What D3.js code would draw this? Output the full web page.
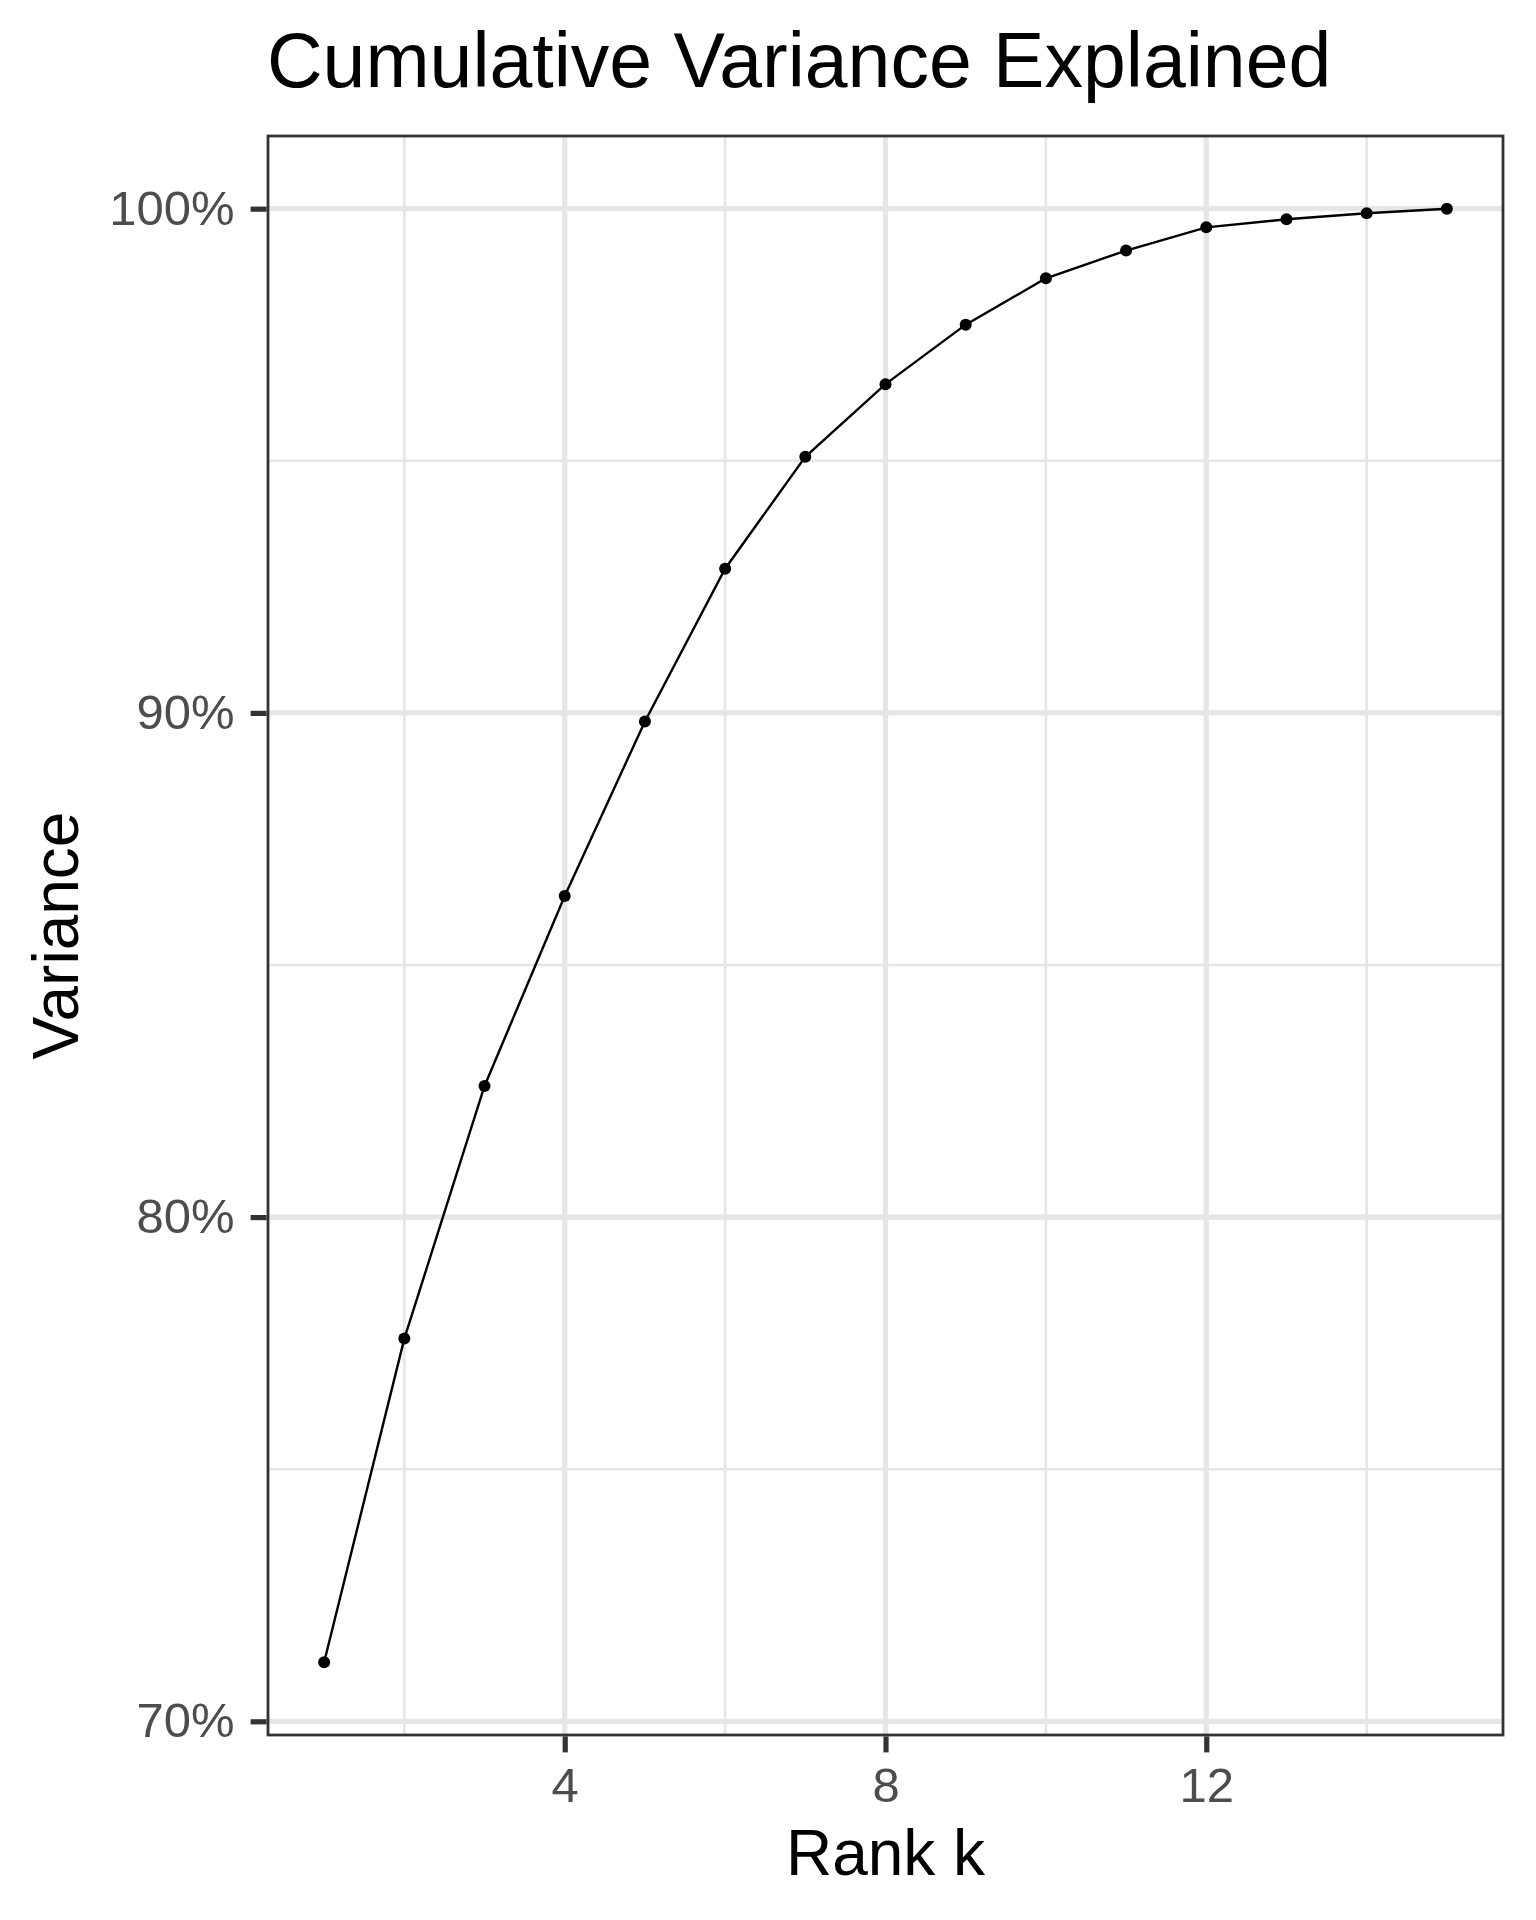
<!DOCTYPE html>
<html>
<head>
<meta charset="utf-8">
<script src="https://cdn.jsdelivr.net/npm/d3@7"></script>
<style>
  body { margin: 0; background: #fff; }
  svg { display: block; font-family: "Liberation Sans", Arial, Helvetica, sans-serif; }
</style>
</head>
<body>
<div id="chart"></div>
<script>
const ranks = [1, 2, 3, 4, 5, 6, 7, 8, 9, 10, 11, 12, 13, 14, 15]
const cumVariance = [71.17, 77.59, 82.60, 86.37, 89.83, 92.86, 95.08, 96.52, 97.70, 98.62, 99.17, 99.63, 99.79, 99.91, 100]
const xBreaks = [4, 8, 12]
const xMinor = [2, 6, 10, 14]
const yBreaks = [70, 80, 90, 100]
const yMinor = [75, 85, 95]

const width = 1536
const height = 1920
const margin = { top: 136, left: 268, bottom: 185, right: 33 }
const innerW = width - margin.left - margin.right
const innerH = height - margin.top - margin.bottom

const data = ranks.map((k, i) => [k, cumVariance[i]])

// ggplot-style 5% expansion on both axes
const expand = (lo, hi) => { const p = (hi - lo) * 0.05; return [lo - p, hi + p] }
const xScale = d3.scaleLinear().domain(expand(d3.min(ranks), d3.max(ranks))).range([0, innerW])
const yScale = d3.scaleLinear().domain(expand(d3.min(cumVariance), d3.max(cumVariance))).range([innerH, 0])

const svg = d3.select('#chart')
  .append('svg')
  .attr('width', width)
  .attr('height', height)

svg.append('text')
  .text('Cumulative Variance Explained')
  .attr('x', margin.left - 1)
  .attr('y', 87)
  .style('font-size', '77px')
  .attr('fill', '#000')

const g = svg.append('g')
  .attr('transform', 'translate(' + margin.left + ',' + margin.top + ')')

g.append('rect')
  .attr('width', innerW)
  .attr('height', innerH)
  .attr('fill', '#fff')

// grid
const grid = g.append('g').attr('stroke', '#E6E6E6')
grid.selectAll('.xminor').data(xMinor).join('line')
  .attr('x1', d => xScale(d)).attr('x2', d => xScale(d))
  .attr('y1', 0).attr('y2', innerH)
  .attr('stroke-width', 2.6)
grid.selectAll('.yminor').data(yMinor).join('line')
  .attr('y1', d => yScale(d)).attr('y2', d => yScale(d))
  .attr('x1', 0).attr('x2', innerW)
  .attr('stroke-width', 2.6)
grid.selectAll('.xmajor').data(xBreaks).join('line')
  .attr('x1', d => xScale(d)).attr('x2', d => xScale(d))
  .attr('y1', 0).attr('y2', innerH)
  .attr('stroke-width', 5.2)
grid.selectAll('.ymajor').data(yBreaks).join('line')
  .attr('y1', d => yScale(d)).attr('y2', d => yScale(d))
  .attr('x1', 0).attr('x2', innerW)
  .attr('stroke-width', 5.2)

const line = d3.line().x(d => xScale(d[0])).y(d => yScale(d[1]))

g.append('path')
  .datum(data)
  .attr('d', line)
  .attr('stroke', '#000')
  .attr('stroke-width', 2.4)
  .attr('fill', 'none')

g.selectAll('circle').data(data).join('circle')
  .attr('cx', d => xScale(d[0]))
  .attr('cy', d => yScale(d[1]))
  .attr('r', 6)
  .attr('fill', '#000')

g.append('rect')
  .attr('width', innerW)
  .attr('height', innerH)
  .attr('fill', 'none')
  .attr('stroke', '#333333')
  .attr('stroke-width', 2.8)

// axes
const xAxis = d3.axisBottom(xScale).tickValues(xBreaks).tickSize(16).tickPadding(15)
const yAxis = d3.axisLeft(yScale).tickValues(yBreaks).tickFormat(d => d + '%').tickSize(16).tickPadding(16)

const styleAxis = sel => {
  sel.select('.domain').remove()
  sel.selectAll('.tick line').attr('stroke', '#333333').attr('stroke-width', 5.2)
  sel.selectAll('.tick text')
    .attr('fill', '#4D4D4D')
    .style('font-size', '49px')
    .style('font-family', '"Liberation Sans", Arial, Helvetica, sans-serif')
}

g.append('g')
  .attr('transform', 'translate(0,' + (innerH + 1.4) + ')')
  .call(xAxis)
  .call(styleAxis)

g.append('g')
  .attr('transform', 'translate(-1.4,0)')
  .call(yAxis)
  .call(styleAxis)

svg.append('text')
  .text('Rank k')
  .attr('x', margin.left + innerW / 2)
  .attr('y', 1875)
  .attr('text-anchor', 'middle')
  .style('font-size', '64px')
  .attr('fill', '#000')

svg.append('text')
  .text('Variance')
  .attr('transform', 'translate(78,' + (margin.top + innerH / 2) + ') rotate(-90)')
  .attr('text-anchor', 'middle')
  .style('font-size', '64px')
  .attr('fill', '#000')
</script>
</body>
</html>
